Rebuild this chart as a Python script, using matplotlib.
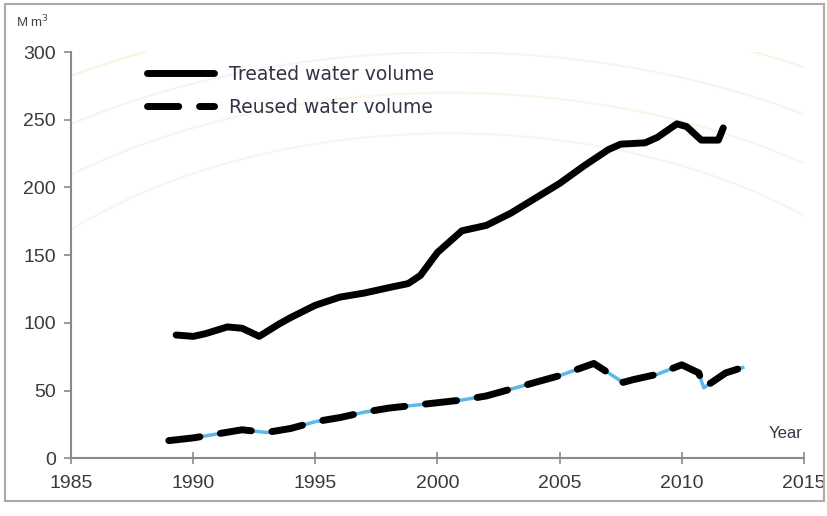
import matplotlib.pyplot as plt
from matplotlib.patches import Rectangle, Arc

# data
treated_years = [1989.3, 1990, 1990.5, 1991.4, 1992, 1992.7, 1993.5, 1994, 1995, 1996, 1997, 1998, 1998.8,
                 1999.3, 2000, 2001, 2002, 2003, 2004, 2005, 2006, 2007, 2007.5, 2008.5, 2009,
                 2009.8, 2010.2, 2010.8, 2011.5, 2011.7]
treated = [91, 90, 92, 97, 96, 90, 99, 104, 113, 119, 122, 126, 129,
           135, 152, 168, 172, 181, 192, 203, 216, 228, 232, 233, 237,
           247, 245, 235, 235, 244]

reused_years = [1989, 1990, 1991, 1992, 1993, 1994, 1995, 1996, 1997, 1998, 1999, 2000, 2001,
                2002, 2003, 2004, 2005, 2006.4, 2007.6, 2008, 2009, 2010, 2010.7, 2010.9, 2011.8, 2012.5]
reused = [13, 15, 18, 21, 19, 22, 27, 30, 34, 37, 39, 41, 43,
          46, 51, 56, 61, 70, 56, 58, 62, 69, 63, 52, 63, 67]

plt.rcParams['font.family'] = ['Liberation Sans', 'DejaVu Sans']

fig = plt.figure(figsize=(8.27, 5.16), dpi=100)
ax = fig.add_axes([0.086, 0.112, 0.886, 0.787])

# very faint background arcs (watermark)
for r, c in [(330, '#fdf1e0'), (300, '#eef6fc'), (270, '#fdf3e8'), (240, '#f0f7fc')]:
    ax.add_patch(Arc((2000.5, 0), 2 * r / 11.0, 2 * r, theta1=0, theta2=180,
                     color=c, lw=1.5, zorder=0))

ax.plot(treated_years, treated, color='#f5c542', lw=2, zorder=2)
ax.plot(treated_years, treated, color='black', lw=5, solid_capstyle='round',
        solid_joinstyle='round', zorder=3, label='Treated water volume')
ax.plot(reused_years, reused, color='#5bb8e8', lw=2.5, zorder=2)
ax.plot(reused_years, reused, color='black', lw=5, dashes=(4.5, 3.0),
        dash_capstyle='round', zorder=3, label='Reused water volume')

ax.set_xlim(1985, 2015)
ax.set_ylim(0, 300)
ax.set_xticks(range(1985, 2016, 5))
ax.set_yticks(range(0, 301, 50))

for s in ['top', 'right']:
    ax.spines[s].set_visible(False)
for s in ['left', 'bottom']:
    ax.spines[s].set_color('#8a8a8a')
    ax.spines[s].set_linewidth(1.5)
ax.tick_params(axis='x', direction='inout', length=8, width=1.2, colors='#8a8a8a',
               labelcolor='#3a3a3a', labelsize=14, pad=8)
ax.tick_params(axis='y', direction='out', length=5, width=1.2, colors='#8a8a8a',
               labelcolor='#3a3a3a', labelsize=14, pad=6)

ax.text(-0.075, 1.075, 'M m$^3$', transform=ax.transAxes, fontsize=9.5,
        color='#444444', ha='left', va='center')
ax.text(0.975, 0.06, 'Year', transform=ax.transAxes, fontsize=12,
        color='#333344', ha='center', va='center')

leg = ax.legend(loc='upper left', bbox_to_anchor=(0.08, 1.01), frameon=False,
                handlelength=3.6, fontsize=13.5, labelspacing=0.75, handletextpad=0.8)
for t in leg.get_texts():
    t.set_color('#333344')
    t.set_family(['DejaVu Sans'])

fig.patches.append(Rectangle((0.006, 0.03), 0.99, 0.963, transform=fig.transFigure,
                             fill=False, edgecolor='#aaaaaa', lw=1.5))

fig.savefig('out.png', dpi=100)
